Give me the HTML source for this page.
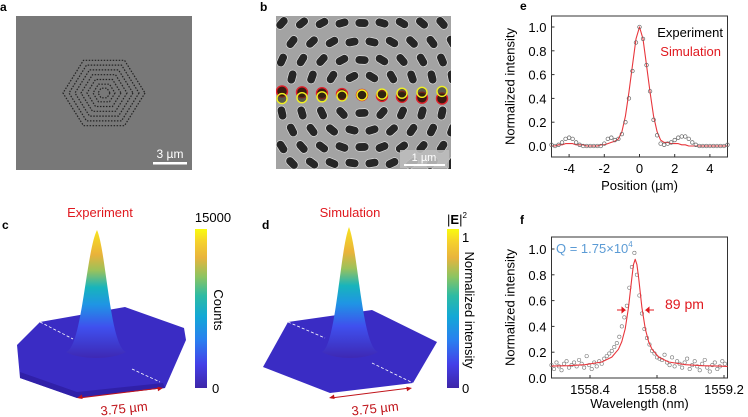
<!DOCTYPE html>
<html><head><meta charset="utf-8">
<style>
body{margin:0;background:#fff;}
svg{display:block;font-family:"Liberation Sans",Arial,sans-serif;}
</style></head>
<body>
<svg id="fig" width="748" height="417" viewBox="0 0 748 417" xmlns="http://www.w3.org/2000/svg">
<defs>
<linearGradient id="parula" x1="0" y1="1" x2="0" y2="0">
<stop offset="0" stop-color="#3e26a8"/><stop offset="0.15" stop-color="#4440e8"/><stop offset="0.3" stop-color="#2a7ff0"/><stop offset="0.45" stop-color="#13a8d6"/><stop offset="0.58" stop-color="#2dbba4"/><stop offset="0.7" stop-color="#8cc461"/><stop offset="0.82" stop-color="#e8b43c"/><stop offset="0.92" stop-color="#f6d12c"/><stop offset="1" stop-color="#f9fb0e"/>
</linearGradient>
<linearGradient id="peakc" gradientUnits="userSpaceOnUse" x1="0" y1="360" x2="0" y2="228">
<stop offset="0" stop-color="#3e26b0"/><stop offset="0.25" stop-color="#3f50ee"/><stop offset="0.42" stop-color="#1f95e4"/><stop offset="0.55" stop-color="#17b4bc"/><stop offset="0.68" stop-color="#9cc25a"/><stop offset="0.8" stop-color="#eab23a"/><stop offset="1" stop-color="#f9e81c"/>
</linearGradient>
<linearGradient id="peakd" gradientUnits="userSpaceOnUse" x1="0" y1="360" x2="0" y2="225">
<stop offset="0" stop-color="#3e26b0"/><stop offset="0.25" stop-color="#3f50ee"/><stop offset="0.42" stop-color="#1f95e4"/><stop offset="0.55" stop-color="#17b4bc"/><stop offset="0.68" stop-color="#9cc25a"/><stop offset="0.8" stop-color="#eab23a"/><stop offset="1" stop-color="#f9e81c"/>
</linearGradient>
</defs>

<text x="0" y="11" font-size="12" font-weight="bold">a</text>
<g>
<rect x="16" y="16" width="176" height="154" fill="#787878"/>
<g id="hexrings" fill="none" stroke="#222" stroke-width="1.2" stroke-dasharray="1.5 1.5"></g>
<text x="170" y="158" font-size="12" fill="#fff" text-anchor="middle">3 µm</text>
<rect x="153" y="162" width="34" height="2.5" fill="#fff"/>
</g>

<text x="260" y="11" font-size="12" font-weight="bold">b</text>
<g>
<clipPath id="clipb"><rect x="276" y="16" width="175" height="153"/></clipPath>
<rect x="276" y="16" width="175" height="153" fill="#a3a3a3"/>
<g id="pills" clip-path="url(#clipb)"></g>
<rect x="400" y="150" width="49" height="18" fill="#bdbdbd" opacity="0.9"/>
<text x="424" y="161" font-size="11" fill="#fff" text-anchor="middle">1 µm</text>
<rect x="404" y="164" width="41" height="2" fill="#fff"/>
</g>

<text x="2" y="229" font-size="12" font-weight="bold">c</text>
<text x="100" y="217" font-size="13" fill="#e0191f" text-anchor="middle">Experiment</text>
<g>
<polygon points="17,345 40,322 125,307 184,328 186,340 165,388 77,398 20,378" fill="#3a2cc4"/>
<polygon points="20,378 77,398 165,388 163,383 77,392 20,372" fill="#3020a8"/>
<path d="M66,352 C82,348 86,252 97,230 C106,250 110,346 126,352 C112,360 80,360 66,352 Z" fill="url(#peakc)"/>
<line x1="40" y1="322" x2="73" y2="339" stroke="#fff" stroke-width="0.8" stroke-dasharray="3 2"/>
<line x1="132" y1="369" x2="160" y2="382" stroke="#fff" stroke-width="0.8" stroke-dasharray="3 2"/>
</g>
<line x1="79" y1="398" x2="161" y2="388" stroke="#c0141a" stroke-width="1"/>
<path d="M77,398 l5,-3.5 l0.6,4.5 z M163,388 l-5.6,-1.2 l0.6,4.5 z" fill="#c0141a"/>
<text x="124" y="413" font-size="13" fill="#c0141a" text-anchor="middle" transform="rotate(-6 124 408)">3.75 µm</text>
<rect x="195" y="229" width="12" height="159" fill="url(#parula)"/>
<text x="213" y="222" font-size="13" text-anchor="middle">15000</text>
<text x="212" y="393" font-size="13">0</text>
<text x="214" y="310" font-size="13" text-anchor="middle" transform="rotate(90 214 310)">Counts</text>

<text x="262" y="229" font-size="12" font-weight="bold">d</text>
<text x="350" y="217" font-size="13" fill="#e0191f" text-anchor="middle">Simulation</text>
<g>
<polygon points="263,367 288,322 372,310 437,342 413,383 330,393" fill="#3a2cc4"/>
<path d="M322,352 C336,346 340,250 349,227 C358,250 362,346 378,352 C364,360 336,360 322,352 Z" fill="url(#peakd)"/>
<line x1="288" y1="322" x2="325" y2="338" stroke="#fff" stroke-width="0.8" stroke-dasharray="3 2"/>
<line x1="372" y1="363" x2="413" y2="383" stroke="#fff" stroke-width="0.8" stroke-dasharray="3 2"/>
</g>
<line x1="331" y1="398" x2="410" y2="388" stroke="#c0141a" stroke-width="1"/>
<path d="M329,398 l5,-3.5 l0.6,4.5 z M412,388 l-5.6,-1.2 l0.6,4.5 z" fill="#c0141a"/>
<text x="375" y="413" font-size="13" fill="#c0141a" text-anchor="middle" transform="rotate(-6 375 408)">3.75 µm</text>
<rect x="447" y="229" width="12" height="159" fill="url(#parula)"/>
<text x="447" y="224" font-size="13">|<tspan font-weight="bold">E</tspan>|<tspan font-size="8" dy="-6">2</tspan></text>
<text x="462" y="242" font-size="13">1</text>
<text x="462" y="393" font-size="13">0</text>
<text x="465" y="310" font-size="13" text-anchor="middle" transform="rotate(90 465 310)">Normalized intensity</text>

<text x="520" y="10" font-size="12" font-weight="bold">e</text>
<g id="chartE"></g>
<text x="520" y="224" font-size="12" font-weight="bold">f</text>
<g id="chartF"></g>
</svg>

<script>
const ePos = [-5,-4.8,-4.6,-4.4,-4.2,-4,-3.8,-3.6,-3.4,-3.2,-3,-2.8,-2.6,-2.4,-2.2,-2,-1.8,-1.6,-1.4,-1.2,-1,-0.8,-0.6,-0.4,-0.2,0,0.2,0.4,0.6,0.8,1,1.2,1.4,1.6,1.8,2,2.2,2.4,2.6,2.8,3,3.2,3.4,3.6,3.8,4,4.2,4.4,4.6,4.8,5];
const eExp = [0.01,0,0.01,0.03,0.06,0.07,0.06,0.03,0.01,0,0,0,0,0,0,0.02,0.06,0.07,0.05,0.06,0.1,0.2,0.4,0.63,0.87,1.0,0.9,0.68,0.46,0.22,0.09,0.02,0.01,0.02,0.03,0.05,0.07,0.08,0.08,0.06,0.03,0.01,0,0,0,0,0,0,0,0,0.01];
const eSim = [0,0,0.01,0.01,0.02,0.02,0.02,0.01,0.01,0.01,0,0,0,0,0.01,0.01,0.02,0.03,0.04,0.06,0.12,0.25,0.45,0.68,0.9,1.0,0.9,0.68,0.45,0.25,0.12,0.05,0.03,0.03,0.02,0.02,0.02,0.01,0.01,0,0,0,0,0,0,0,0,0,0,0,0];
const eXTicks = [-4,-2,0,2,4];
const eYTicks = [0.0,0.2,0.4,0.6,0.8,1.0];
const eYTickLabels = ["0.0","0.2","0.4","0.6","0.8","1.0"];

const fFitX = [1558.17,1558.27,1558.37,1558.47,1558.53,1558.57,1558.59,1558.61,1558.63,1558.65,1558.66,1558.67,1558.68,1558.69,1558.71,1558.73,1558.75,1558.77,1558.81,1558.87,1558.97,1559.07,1559.17,1559.23];
const fFitY = [0.092,0.095,0.103,0.124,0.162,0.223,0.282,0.381,0.547,0.78,0.88,0.92,0.88,0.78,0.547,0.381,0.282,0.223,0.162,0.124,0.103,0.095,0.092,0.09];
const fExpStart = 1558.17;
const fExpStep = 0.015;
const fExpY = [0.10,0.07,0.12,0.09,0.06,0.11,0.13,0.08,0.10,0.12,0.09,0.14,0.11,0.08,0.17,0.10,0.07,0.12,0.09,0.13,0.11,0.15,
0.17,0.19,0.21,0.24,0.27,0.32,0.40,0.47,0.56,0.70,0.86,0.97,0.80,0.64,0.50,0.38,0.31,0.26,0.21,0.19,0.16,0.15,
0.14,0.18,0.12,0.10,0.16,0.09,0.13,0.11,0.08,0.12,0.15,0.07,0.10,0.13,0.09,0.06,0.11,0.14,0.08,0.05,0.10,0.12,0.07,0.09,0.13,0.11];
const fXTicks = [1558.4,1558.8,1559.2];
const fXTickLabels = ["1558.4","1558.8","1559.2"];
const fYTicks = [0,0.2,0.4,0.6,0.8,1.0];
const fYTickLabels = ["0.0","0.2","0.4","0.6","0.8","1.0"];

const NS = "http://www.w3.org/2000/svg";
function mk(tag, attrs, parent){ const el=document.createElementNS(NS,tag); for(const k in attrs) el.setAttribute(k,attrs[k]); parent.appendChild(el); return el; }

(function(){
  const g=document.getElementById('hexrings');
  const cx=104,cy=93;
  [41,35,29,23,17,11,6].forEach(r=>{
    const pts=[];
    for(let i=0;i<6;i++){const a=Math.PI/3*i; pts.push((cx+r*Math.cos(a)).toFixed(1)+','+(cy+r*0.92*Math.sin(a)).toFixed(1));}
    const p=mk('polygon',{points:pts.join(' ')},g);
    
    
  });
})();

(function(){
  const g=document.getElementById('pills');
  const rowsY=[23,42,60,77,113,130,147,163];
  rowsY.forEach((y,ri)=>{
    for(let c=0;c<10;c++){
      const x=282+c*20+(ri%2?10:0);
      const dx=x-361, dy=y-95;
      const ang=Math.atan2(dy,dx)*180/Math.PI+90;
      const e=mk('rect',{x:x-7,y:y-4.2,width:14,height:8.4,rx:4.2,fill:'#262626',stroke:'#e8e8e8','stroke-width':0.6,transform:`rotate(${ang.toFixed(0)} ${x} ${y})`},g);
      
      
    }
  });
  for(let c=0;c<9;c++){
    const x=282+c*20;
    const off=(c-4)*0.9;
    const r1=mk('circle',{cx:x,cy:95+off,r:5.5,fill:'#3a1a10',stroke:'#e0202a','stroke-width':1.4},g);
    
    
    const r2=mk('circle',{cx:x,cy:95-off,r:5,fill:'#2a2a10',stroke:'#f0f020','stroke-width':1.4,'fill-opacity':0.6},g);
    
    
  }
})();

function axesFrame(g,L,T,R,B){
  const f=mk('rect',{x:L,y:T,width:R-L,height:B-T,fill:'none',stroke:'#333','stroke-width':1},g);
  
  
}

(function(){
  const g=document.getElementById('chartE');
  const L=551.5,R=727.5,T=16,B=157;
  const xs=v=>L+(v+5)/10*(R-L);
  const ys=v=>146-v*119;
  axesFrame(g,L,T,R,B);
  eXTicks.forEach(t=>{
    mk('line',{x1:xs(t),y1:B,x2:xs(t),y2:B-3,stroke:'#333'},g);
    const tx=mk('text',{x:xs(t),y:B+16,'font-size':13,'text-anchor':'middle'},g); tx.textContent=t;
    
    
  });
  eYTicks.forEach((t,i)=>{
    mk('line',{x1:L,y1:ys(t),x2:L+3,y2:ys(t),stroke:'#333'},g);
    const tx=mk('text',{x:L-5,y:ys(t)+5,'font-size':13,'text-anchor':'end'},g); tx.textContent=eYTickLabels[i];
    
    
  });
  const xl=mk('text',{x:(L+R)/2,y:190,'font-size':13,'text-anchor':'middle'},g); xl.textContent='Position (µm)';
  
  
  const yl=mk('text',{x:0,y:0,'font-size':13,'text-anchor':'middle',transform:`translate(${L-37},${(T+B)/2}) rotate(-90)`},g); yl.textContent='Normalized intensity';
  
  
  const sim=mk('polyline',{points:ePos.map((p,i)=>xs(p).toFixed(1)+','+ys(eSim[i]).toFixed(1)).join(' '),fill:'none',stroke:'#e8363c','stroke-width':1.1,'stroke-linejoin':'round'},g);
  
  
  ePos.forEach((p,i)=>{
    const c=mk('circle',{cx:xs(p),cy:ys(eExp[i]),r:1.8,fill:'none',stroke:'#666','stroke-width':0.7},g);
    
    
  });
  const l1=mk('text',{x:723,y:37,'font-size':13,'text-anchor':'end'},g); l1.textContent='Experiment';
  
  
  const l2=mk('text',{x:721,y:56,'font-size':13,'text-anchor':'end',fill:'#e0191f'},g); l2.textContent='Simulation';
  
  
})();

(function(){
  const g=document.getElementById('chartF');
  const L=551.5,R=727.5,T=237,B=378;
  const xs=v=>590+(v-1558.4)*167.5;
  const ys=v=>378-v*129;
  axesFrame(g,L,T,R,B);
  fXTicks.forEach((t,i)=>{
    mk('line',{x1:xs(t),y1:B,x2:xs(t),y2:B-3,stroke:'#333'},g);
    const tx=mk('text',{x:xs(t),y:B+16,'font-size':13,'text-anchor':'middle'},g); tx.textContent=fXTickLabels[i];
    
    
  });
  fYTicks.forEach((t,i)=>{
    mk('line',{x1:L,y1:ys(t),x2:L+3,y2:ys(t),stroke:'#333'},g);
    const tx=mk('text',{x:L-5,y:ys(t)+5,'font-size':13,'text-anchor':'end'},g); tx.textContent=fYTickLabels[i];
    
    
  });
  const xl=mk('text',{x:(L+R)/2,y:408,'font-size':13,'text-anchor':'middle'},g); xl.textContent='Wavelength (nm)';
  
  
  const yl=mk('text',{x:0,y:0,'font-size':13,'text-anchor':'middle',transform:`translate(${L-37},${(T+B)/2}) rotate(-90)`},g); yl.textContent='Normalized intensity';
  
  
  fExpY.forEach((v,i)=>{
    const c=mk('circle',{cx:xs(fExpStart+i*fExpStep),cy:ys(v),r:1.7,fill:'none',stroke:'#777','stroke-width':0.6},g);
    
    
  });
  const fit=mk('polyline',{points:fFitX.map((x,i)=>Math.max(L,Math.min(R,xs(x))).toFixed(1)+','+ys(fFitY[i]).toFixed(1)).join(' '),fill:'none',stroke:'#e8363c','stroke-width':1.1,'stroke-linejoin':'round'},g);
  
  
  const q=mk('text',{x:556,y:253,'font-size':13,fill:'#5b9bd5'},g); q.innerHTML='Q = 1.75×10<tspan font-size="8" dy="-6">4</tspan>';
  
  
  const a1=mk('path',{d:'M617,310 h8 l-3,-2.5 v5 l3,-2.5',fill:'#e0191f',stroke:'#e0191f','stroke-width':1},g);
  
  
  const a2=mk('path',{d:'M654,310 h-8 l3,-2.5 v5 l-3,-2.5',fill:'#e0191f',stroke:'#e0191f','stroke-width':1},g);
  
  
  const w=mk('text',{x:665,y:309,'font-size':14,fill:'#e0191f'},g); w.textContent='89 pm';
  
  
})();
</script>
</body></html>
